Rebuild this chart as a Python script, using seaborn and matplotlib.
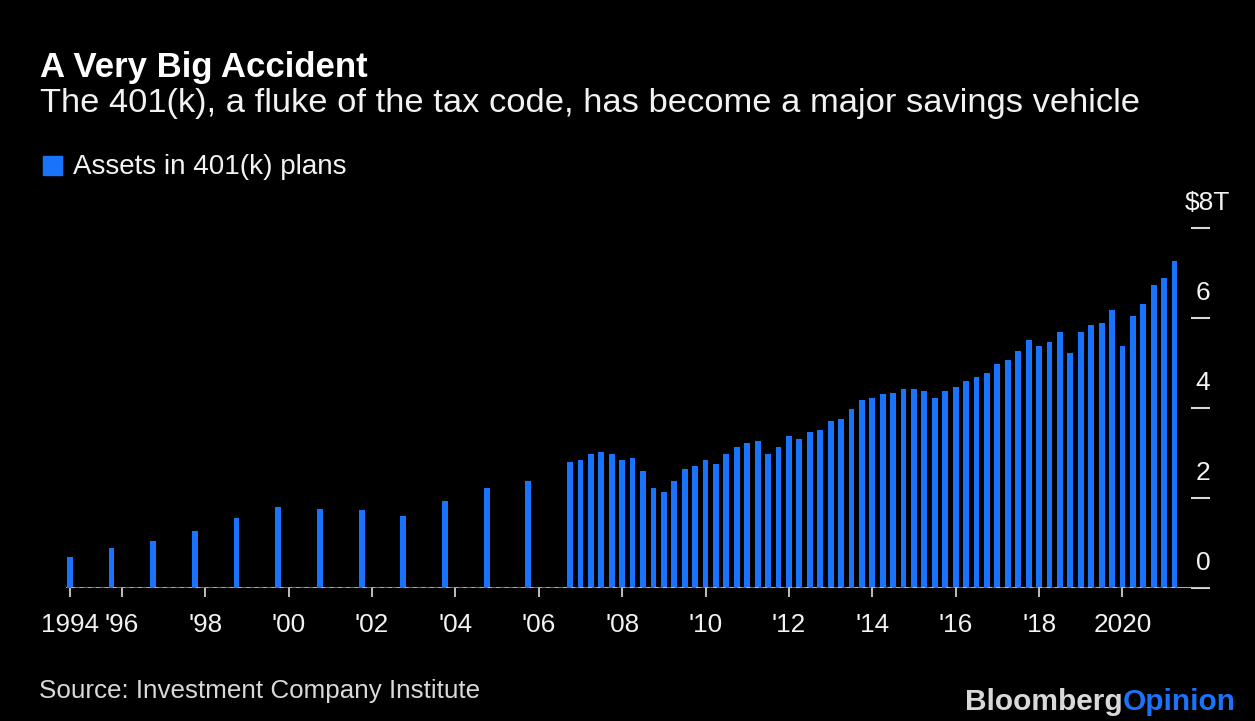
import matplotlib
matplotlib.use("Agg")
import matplotlib.pyplot as plt
import seaborn as sns
import pandas as pd
import numpy as np

# ---------------- data ----------------
annual_years = [1994, 1995, 1996, 1997, 1998, 1999, 2000, 2001, 2002, 2003, 2004, 2005]
annual_assets = [0.69, 0.90, 1.06, 1.27, 1.56, 1.81, 1.77, 1.73, 1.60, 1.93, 2.23, 2.39]

quarter_periods = pd.period_range("2006Q4", "2021Q2", freq="Q")
quarterly_assets = [
    2.81,
    2.85, 2.98, 3.02, 2.98,   # 2007
    2.85, 2.89, 2.60, 2.23,   # 2008
    2.15, 2.39, 2.65, 2.72,   # 2009
    2.85, 2.77, 2.98, 3.14,   # 2010
    3.23, 3.27, 2.98, 3.14,   # 2011
    3.39, 3.31, 3.48, 3.52,   # 2012
    3.72, 3.77, 3.98, 4.18,   # 2013
    4.23, 4.31, 4.35, 4.44,   # 2014
    4.44, 4.39, 4.23, 4.39,   # 2015
    4.47, 4.61, 4.69, 4.78,   # 2016
    4.98, 5.07, 5.27, 5.52,   # 2017
    5.39, 5.47, 5.69, 5.24,   # 2018
    5.69, 5.86, 5.90, 6.18,   # 2019
    5.39, 6.06, 6.31, 6.73,   # 2020
    6.89, 7.28,               # 2021
]

xtick_years = [1994, 1996, 1998, 2000, 2002, 2004, 2006, 2008, 2010, 2012, 2014, 2016, 2018, 2020]
xtick_labels = ["1994", "'96", "'98", "'00", "'02", "'04", "'06", "'08", "'10", "'12", "'14", "'16", "'18", "2020"]
ytick_values = [0, 2, 4, 6, 8]
ytick_labels = ["0", "2", "4", "6", "$8T"]

title = "A Very Big Accident"
subtitle = "The 401(k), a fluke of the tax code, has become a major savings vehicle"
legend_label = "Assets in 401(k) plans"
source = "Source: Investment Company Institute"

# ---------------- style ----------------
BLUE = "#1a74fb"
BG = "#000000"
TXT = "#f2f2f2"
GRAY = "#bfbfbf"

sns.set_theme(style="dark")
plt.rcParams["font.family"] = ["Liberation Sans", "DejaVu Sans"]

W, H = 1255, 721
fig = plt.figure(figsize=(W / 100, H / 100), dpi=100, facecolor=BG)

def fx(px):
    return px / W

def fy(py):
    return 1 - py / H

# positions on a decimal-year axis (annual values shown at the Q4 slot)
annual_pos = [y + 0.75 for y in annual_years]
quarter_pos = [p.year + (p.quarter - 1) / 4 for p in quarter_periods]
df = pd.DataFrame({
    "pos": annual_pos + quarter_pos,
    "assets": annual_assets + quarterly_assets,
})

ax = fig.add_axes([fx(66), fy(588.3), fx(1210) - fx(66), fy(228.3) - fy(588.3)])
ax.set_facecolor(BG)

sns.barplot(data=df, x="pos", y="assets", native_scale=True, width=0.56,
            color=BLUE, saturation=1, errorbar=None, linewidth=0, ax=ax, zorder=2)

ax.set_xlim(1994.66, 2022.10)
ax.set_ylim(0, 8)
ax.set_xlabel("")
ax.set_ylabel("")
for s in ax.spines.values():
    s.set_visible(False)
ax.grid(False)

# baseline
ax.axhline(0, color=GRAY, lw=2, zorder=3)
bar_half = 0.56 * 0.25 / 2
ax.hlines(0, df["pos"].min() - bar_half, df["pos"].max() + bar_half, colors=BLUE,
          linestyles=(0, (2, 2)), lw=1.5, zorder=4)

# x ticks
xtick_pos = [annual_pos[0]] + xtick_years[1:]
ax.set_xticks(xtick_pos, xtick_labels)
ax.tick_params(axis="x", direction="out", length=6.5, width=1.4, color=GRAY,
               labelcolor=TXT, labelsize=18.8, pad=11.5, bottom=True)

# y ticks (right side, dashes, labels above)
ax.yaxis.tick_right()
ax.set_yticks(ytick_values)
ax.tick_params(axis="y", direction="in", length=13.7, width=1.5, color="#d9d9d9",
               labelright=False, labelleft=False, right=True, left=False)
for v, lab in zip(ytick_values, ytick_labels):
    dx = 3 if lab.startswith("$") else 0
    ax.annotate(lab, xy=(1, v), xycoords=("axes fraction", "data"),
                xytext=(-5 + dx, 13), textcoords="offset points",
                ha="center", va="baseline", color=TXT, fontsize=19,
                annotation_clip=False)

# titles
fig.text(fx(40), fy(77), title, color="white", fontsize=25, fontweight="bold",
         va="baseline", ha="left")
fig.text(fx(40), fy(112), subtitle, color=TXT, fontsize=24.8,
         va="baseline", ha="left")

# legend
fig.patches.append(plt.Rectangle((fx(43), fy(175)), fx(18.5), fy(156) - fy(175),
                                 transform=fig.transFigure, color=BLUE, figure=fig))
fig.text(fx(73), fy(173.5), legend_label, color=TXT, fontsize=20,
         va="baseline", ha="left")

# footer
fig.text(fx(39), fy(697.7), source, color="#d9d9d9", fontsize=18.7,
         va="baseline", ha="left")
t1 = fig.text(fx(965), fy(710), "Bloomberg", color="#d9d9d9", fontsize=21.5,
              fontweight="bold", va="baseline", ha="left")
ax.annotate("Opinion", xy=(1, 0), xycoords=t1, va="bottom", ha="left",
            color=BLUE, fontsize=21.5, fontweight="bold", annotation_clip=False)

fig.savefig("out.png", dpi=100, facecolor=BG)
